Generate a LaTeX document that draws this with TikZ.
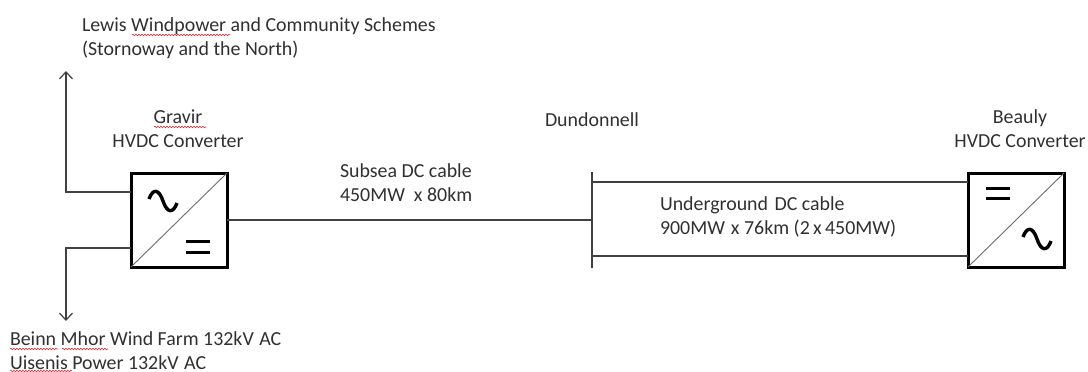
\documentclass[tikz,border=0pt]{standalone}
\usepackage{fontspec}
\setmainfont{Carlito}
\usetikzlibrary{arrows.meta,positioning,decorations.pathmorphing}
\definecolor{Ink}{HTML}{404040}
\definecolor{Script}{HTML}{303030}
\definecolor{Squig}{HTML}{E03030}
\tikzset{
 lbl/.style={font=\fontsize{19.9}{23.2}\selectfont,text=Script,align=left,inner sep=0pt,outer sep=0pt},
 conv/.style={draw=black,line width=3pt,fill=white,minimum width=96pt,minimum height=94pt,inner sep=0pt,outer sep=0pt},
 busbar/.style={draw=Ink,line width=1.2pt,minimum width=0pt,minimum height=96pt,inner sep=0pt,outer sep=0pt},
 cable/.style={draw=Ink,line width=1.2pt},
 arr/.style={cable,-{Straight Barb[length=7pt,width=13pt]}},
 diag/.style={draw=gray!85!black,line width=.9pt},
 wave/.style={draw=black,line width=3.4pt},
 bars/.style={draw=black,line width=3pt},
 squig/.style={draw=Squig,line width=.6pt,decorate,decoration={snake,amplitude=.8pt,segment length=3pt}}
}
\begin{document}
\begin{tikzpicture}[x=1pt,y=-1pt]
\useasboundingbox (0,0) rectangle (1088,372);
\node[conv] (gravir) at (179,220) {};
\node[conv] (beauly) at (1016,220) {};
\node[busbar] (dundbus) at (592,220) {};
\coordinate (north) at (66,71);
\coordinate (south) at (66,321);
% labels
\node[lbl,anchor=base west] (lewis) at (82,55) {Lewis Windpower and Community Schemes\\(Stornoway and the North)};
\node[lbl,align=center,anchor=base] (gravirlbl) at (178,147) {Gravir\\HVDC Converter};
\node[lbl,anchor=base west] (subsea) at (340,201) {Subsea DC cable\\450MW\ \ x 80km};
\node[lbl,anchor=base west] (dund) at (545,126.5) {Dundonnell};
\node[lbl,anchor=base west] (underground) at (660,234) {Underground\ \kern2pt DC cable\\900MW\kern6pt x 76km\ (2\,x\,450MW)};
\node[lbl,align=center,anchor=base] (beaulylbl) at (1020,147) {Beauly\\HVDC Converter};
\node[lbl,anchor=base west] (beinn) at (10,369) {Beinn Mhor Wind Farm 132kV\ \kern1pt AC\\Uisenis Power 132kV\ \kern1pt AC};
% converters
\draw[diag] (gravir.south west) -- (gravir.north east);
\draw[diag] (beauly.south west) -- (beauly.north east);
\draw[wave] (149,199) .. controls (153,188) and (159,189) .. (163,201) .. controls (167,213) and (173,214) .. (177,203);
\draw[wave] (1023,237) .. controls (1027,226) and (1033,227) .. (1037,239) .. controls (1041,251) and (1047,252) .. (1051,241);
\draw[bars] (186,241) -- (210,241) (186,252) -- (210,252);
\draw[bars] (986,188) -- (1010,188) (986,198) -- (1010,198);
% cables
\draw[arr] ([yshift=28pt]gravir.west) -| (north);
\draw[arr] ([yshift=-28pt]gravir.west) -| (south);
\draw[cable] (gravir.east) -- (dundbus.west);
\draw[cable] ([yshift=38pt]dundbus.east) -- ([yshift=38pt]beauly.west);
\draw[cable] ([yshift=-36pt]dundbus.east) -- ([yshift=-36pt]beauly.west);
% spelling marks
\foreach \xa/\xb/\yy in {132/230/35,154/206/127,10/58/349,62/108/349,10/72/371}
 \draw[squig] (\xa,\yy) -- (\xb,\yy);
\end{tikzpicture}
\end{document}
